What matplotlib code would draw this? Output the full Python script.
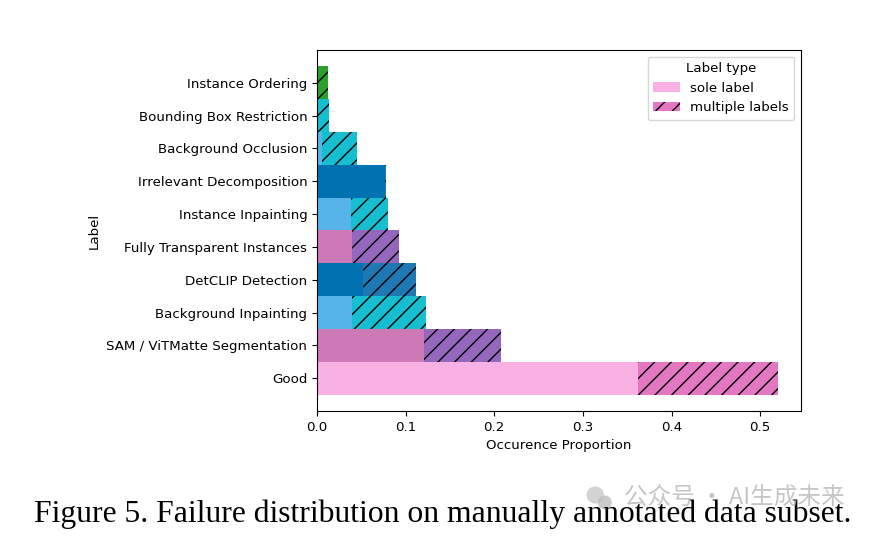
import numpy as np
import matplotlib.pyplot as plt
from matplotlib.patches import Ellipse

# failure categories, bottom to top
labels = ['Good', 'SAM / ViTMatte Segmentation', 'Background Inpainting',
          'DetCLIP Detection', 'Fully Transparent Instances', 'Instance Inpainting',
          'Irrelevant Decomposition', 'Background Occlusion',
          'Bounding Box Restriction', 'Instance Ordering']
sole = [0.362, 0.121, 0.039, 0.052, 0.039, 0.038, 0.077, 0.006, 0.0, 0.0]
multi = [0.158, 0.086, 0.084, 0.060, 0.053, 0.042, 0.001, 0.0395, 0.014, 0.012]

sole_colors = ['#f9b0e3', '#cc79b6', '#56b4e9', '#0072b2', '#cc79b6',
               '#56b4e9', '#0072b2', '#56b4e9', '#56b4e9', '#2ca02c']
multi_colors = ['#e377c2', '#9467bd', '#17becf', '#1f77b4', '#9467bd',
                '#17becf', '#1f77b4', '#17becf', '#17becf', '#2ca02c']

fig = plt.figure(figsize=(8.74, 5.38), dpi=100)
ax = fig.add_axes([0.3627, 0.2361, 0.5538, 0.671])

y = np.arange(len(labels))
ax.barh(y, sole, height=1.0, color=sole_colors, linewidth=0)
ax.barh(y, multi, left=sole, height=1.0, color=multi_colors,
        edgecolor='black', linewidth=0, hatch='//')

ax.set_yticks(y)
ax.set_yticklabels(labels, fontsize=9.6)
ax.tick_params(axis='x', labelsize=9.6)
ax.set_xlabel('Occurence Proportion', fontsize=9.6)
ax.set_ylabel('Label', fontsize=9.6)

# legend with generic handles
h1 = plt.Rectangle((0, 0), 1, 1, facecolor='#f9b0e3', linewidth=0)
h2 = plt.Rectangle((0, 0), 1, 1, facecolor='#e377c2', edgecolor='black',
                   linewidth=0, hatch='//')
ax.legend([h1, h2], ['sole label', 'multiple labels'], title='Label type',
          loc='upper right', fontsize=9.6, title_fontsize=9.6)

fig.text(0.507, 0.045, 'Figure 5. Failure distribution on manually annotated data subset.',
         ha='center', va='center', fontsize=22.8, family='Liberation Serif')

# watermark
fig.patches.append(Ellipse((0.681, 0.080), 0.020, 0.032, transform=fig.transFigure,
                           facecolor='#c8c8c8', alpha=0.8, edgecolor='none'))
fig.patches.append(Ellipse((0.692, 0.066), 0.016, 0.026, transform=fig.transFigure,
                           facecolor='#bdbdbd', alpha=0.8, edgecolor='none'))
fig.text(0.714, 0.076, '公众号 · AI生成未来', ha='left', va='center', fontsize=17,
         color='#b8b8b8', alpha=0.8, family=['Noto Sans CJK SC', 'DejaVu Sans'])

plt.savefig('out.png', dpi=100)
